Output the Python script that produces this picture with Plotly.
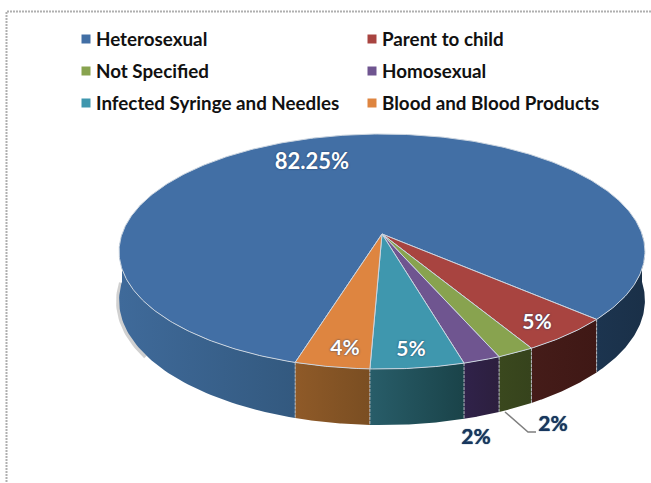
import numpy as np
import plotly.graph_objects as go

categories = ["Heterosexual", "Parent to child", "Not Specified", "Homosexual",
              "Infected Syringe and Needles", "Blood and Blood Products"]
values = [82.25, 5, 2, 2, 5, 4]
labels = ["82.25%", "5%", "2%", "2%", "5%", "4%"]

top_colors = ["#426FA5", "#A84440", "#88A34F", "#6F5590", "#3F97AE", "#DE8540"]
side_left = ["#3F6A9A", "#451C19", "#3A481E", "#30224A", "#285D69", "#8F5A28"]
side_right = ["#33597F", "#3F1815", "#36431C", "#2C1F3E", "#1A4349", "#7A4E22"]
side_back = ["#1C344F", "#1A3048"]

# projection of the circular pie on to the page (pixel axes)
CX, CY, A, B, C = 382, 234, 260, 114.9, 0.149
DEPTH = 47.7
START_DEG = -42.0  # edge between first and second slice


def project(t):
    u, v = np.cos(t), np.sin(t)
    d = 1 + C * v
    return CX + A * u / d, CY - B * v / d, DEPTH / d


span = 2 * np.pi * np.array(values) / sum(values)
a0 = np.deg2rad(START_DEG)
slices = [(a0, a0 + span[0])]
cur = a0
for s in span[1:]:
    slices.append((cur - s, cur))
    cur -= s

fig = go.Figure()

# outer frame
fig.add_trace(go.Scatter(x=[651, 6.5, 6.5], y=[11.5, 11.5, 483], mode="lines", hoverinfo="skip",
                         line=dict(color="#B0B0B0", width=2, dash="2px,1px"), showlegend=False))


def side_pieces(t0, t1):
    out = []
    for k in (-1, 0, 1):
        lo = max(t0, -np.pi + 2 * np.pi * k)
        hi = min(t1, 2 * np.pi * k)
        if hi > lo:
            out.append((lo, hi))
    return out


# soft shadow on the left of the wall
ts = np.linspace(-np.pi, -2.55, 30)
x, y, dp = project(ts)
fig.add_trace(go.Scatter(x=x - 1, y=y + dp + 1, mode="lines", hoverinfo="skip", showlegend=False,
                         line=dict(color="rgba(120,120,120,0.35)", width=4)))

# walls
sep_x, sep_y = [], []
for i, (t0, t1) in enumerate(slices):
    for lo, hi in side_pieces(t0, t1):
        ts = np.linspace(lo, hi, 60)
        x, y, dp = project(ts)
        px = np.concatenate([x, x[::-1], x[:1]])
        py = np.concatenate([y, (y + dp)[::-1], y[:1]])
        c0, c1 = side_left[i], side_right[i]
        if i == 0 and hi <= 0:  # part of the first slice on the right
            c0, c1 = side_back
        fig.add_trace(go.Scatter(
            x=px, y=py, mode="lines", fill="toself", hoverinfo="skip", showlegend=False,
            line=dict(width=0),
            fillgradient=dict(type="horizontal", colorscale=[[0, c0], [1, c1]])))
    xe, ye, de = project(np.array([t0]))
    sep_x += [xe[0], xe[0], None]
    sep_y += [ye[0], ye[0] + de[0], None]

# slice separators on the wall
fig.add_trace(go.Scatter(x=sep_x, y=sep_y, mode="lines", hoverinfo="skip", showlegend=False,
                         line=dict(color="#B4BAC0", width=1, dash="3px,1px")))

# top faces
for i, (t0, t1) in enumerate(slices):
    ts = np.linspace(t0, t1, 400 if i == 0 else 40)
    x, y, _ = project(ts)
    fig.add_trace(go.Scatter(
        x=np.concatenate([[CX], x, [CX]]), y=np.concatenate([[CY], y, [CY]]),
        mode="lines", fill="toself", fillcolor=top_colors[i], hoverinfo="skip",
        line=dict(color="#CBD5E0", width=1), showlegend=False, name=categories[i]))

# leader line
fig.add_trace(go.Scatter(x=[505, 528, 536], y=[412, 432, 432], mode="lines", hoverinfo="skip",
                         line=dict(color="#7F7F7F", width=1.5), showlegend=False))

# data labels
label_x = [312, 537, 553, 476, 411, 345]
label_y = [163, 324, 426, 439, 351, 350]
label_col = ["#FFFFFF", "#FFFFFF", "#17375E", "#17375E", "#FFFFFF", "#FFFFFF"]
label_shadow = ["0 0 2px #1F3A60"] * 2 + ["0 0 1px #17375E"] * 2 + ["0 0 2px #1F3A60"] * 2
label_size = [22, 21, 21, 21, 21, 21]
for i in range(len(labels)):
    fig.add_trace(go.Scatter(
        x=[label_x[i]], y=[label_y[i]], mode="text", text=[labels[i]], hoverinfo="skip", showlegend=False,
        textposition="middle center",
        textfont=dict(family="Lato", size=label_size[i], color=label_col[i], weight="bold",
                      shadow=label_shadow[i])))

# legend
leg_x = [86, 372, 86, 372, 86, 372]
leg_y = [39, 39, 71, 71, 103, 103]
for i in range(len(categories)):
    fig.add_trace(go.Scatter(
        x=[leg_x[i]], y=[leg_y[i]], mode="markers", name=categories[i], hoverinfo="skip", showlegend=False,
        marker=dict(symbol="square", size=9, color=top_colors[i])))
    fig.add_trace(go.Scatter(
        x=[leg_x[i] + 10], y=[leg_y[i] + 2], mode="text", text=[categories[i]], hoverinfo="skip", showlegend=False,
        textposition="middle right",
        textfont=dict(family="Lato", size=18.8, color="#111111", weight="bold")))

fig.update_layout(
    width=651, height=483, margin=dict(l=0, r=0, t=0, b=0),
    paper_bgcolor="white", plot_bgcolor="white", showlegend=False,
    xaxis=dict(range=[0, 651], visible=False, fixedrange=True),
    yaxis=dict(range=[483, 0], visible=False, fixedrange=True),
)
fig.write_html("out.html", config={"displayModeBar": False},
               post_script="document.body.style.margin='0';document.body.style.overflow='hidden';")
